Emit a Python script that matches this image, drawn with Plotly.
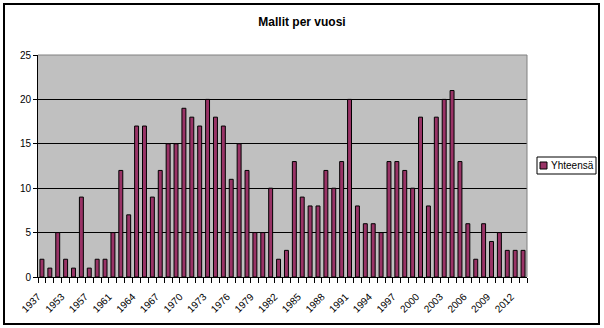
import plotly.graph_objects as go

# Models released per year
years = ["1937", "1949", "1952", "1953", "1954", "1956", "1957", "1958", "1960",
         "1961", "1962", "1963", "1964", "1965", "1966", "1967", "1968", "1969",
         "1970", "1971", "1972", "1973", "1974", "1975", "1976", "1977", "1978",
         "1979", "1980", "1981", "1982", "1983", "1984", "1985", "1986", "1987",
         "1988", "1989", "1990", "1991", "1992", "1993", "1994", "1995", "1996",
         "1997", "1998", "1999", "2000", "2001", "2002", "2003", "2004", "2005",
         "2006", "2007", "2008", "2009", "2010", "2011", "2012", "2013"]
counts = [2, 1, 5, 2, 1, 9, 1, 2, 2,
          5, 12, 7, 17, 17, 9, 12, 15, 15,
          19, 18, 17, 20, 18, 17, 11, 15, 12,
          5, 5, 10, 2, 3, 13, 9, 8, 8,
          12, 10, 13, 20, 8, 6, 6, 5, 13,
          13, 12, 10, 18, 8, 18, 20, 21, 13,
          6, 2, 6, 4, 5, 3, 3, 3]
series_name = "Yhteensä"
label_years = years[::3]

BAR = "#993366"
FONT = "Liberation Sans, Arial, sans-serif"

W_PX, H_PX = 604, 328
L, R, T, B = 38, 527, 55, 277


def px_x(px):
    return (px - L) / (R - L)


def px_y(py):
    return (B - py) / (B - T)


fig = go.Figure()
fig.add_trace(go.Bar(
    x=years, y=counts, name=series_name,
    marker=dict(color=BAR, line=dict(color="black", width=1)),
    showlegend=False,
))
# helper trace carrying the same categories for the boundary tick axis
fig.add_trace(go.Scatter(
    x=years, y=counts, xaxis="x2", mode="none",
    hoverinfo="skip", showlegend=False,
))

n = len(years)
fig.update_layout(
    width=W_PX, height=H_PX,
    margin=dict(l=L, r=W_PX - R, t=T, b=H_PX - B),
    paper_bgcolor="white",
    plot_bgcolor="#C0C0C0",
    bargap=0.5,
    font=dict(family=FONT, size=10, color="black"),
    title=dict(text="<b>Mallit per vuosi</b>", x=0.5, xref="container",
               xanchor="center", y=1 - 21.5 / H_PX, yref="container",
               yanchor="middle", font=dict(family=FONT, size=12, color="black")),
    xaxis=dict(
        type="category", categoryorder="array", categoryarray=years,
        range=[-0.5, n - 0.5],
        tickmode="array", tickvals=label_years, ticktext=label_years,
        ticks="", tickangle=-45, showline=True, linecolor="black", linewidth=1,
        showgrid=False, zeroline=False,
        ticklabelstandoff=9, ticklabelshift=-4,
        tickfont=dict(family=FONT, size=10, color="black"),
    ),
    xaxis2=dict(
        type="category", categoryorder="array", categoryarray=years,
        range=[-0.5, n - 0.5], overlaying="x", side="bottom",
        tickson="boundaries", dtick=1, ticks="outside", ticklen=5,
        tickcolor="black", tickwidth=1, showticklabels=False,
        showgrid=False, showline=False, zeroline=False,
    ),
    yaxis=dict(
        range=[0, 25], dtick=5, ticks="outside", ticklen=4,
        tickcolor="black", showline=True, linecolor="black", linewidth=1,
        gridcolor="black", gridwidth=1, zeroline=False,
        tickfont=dict(family=FONT, size=10, color="black"),
    ),
    shapes=[
        # gray frame on the top and right of the plot area
        dict(type="line", xref="paper", yref="paper", x0=0, x1=1, y0=1, y1=1,
             line=dict(color="#808080", width=1)),
        dict(type="line", xref="paper", yref="paper", x0=1, x1=1, y0=0, y1=1,
             line=dict(color="#808080", width=1)),
        # outer chart border
        dict(type="rect", xref="paper", yref="paper",
             x0=px_x(4), x1=px_x(599), y0=px_y(324), y1=px_y(4),
             line=dict(color="black", width=2), fillcolor="rgba(0,0,0,0)"),
        # legend box and swatch
        dict(type="rect", xref="paper", yref="paper",
             x0=px_x(537), x1=px_x(596), y0=px_y(174), y1=px_y(157),
             line=dict(color="black", width=1), fillcolor="white"),
        dict(type="rect", xref="paper", yref="paper",
             x0=px_x(540), x1=px_x(547), y0=px_y(169), y1=px_y(162),
             line=dict(color="black", width=1), fillcolor=BAR),
    ],
    annotations=[
        dict(text=series_name, xref="paper", yref="paper",
             x=px_x(549), y=px_y(165.5), xanchor="left", yanchor="middle",
             showarrow=False, font=dict(family=FONT, size=10, color="black")),
    ],
)

fig.write_html("out.html")
